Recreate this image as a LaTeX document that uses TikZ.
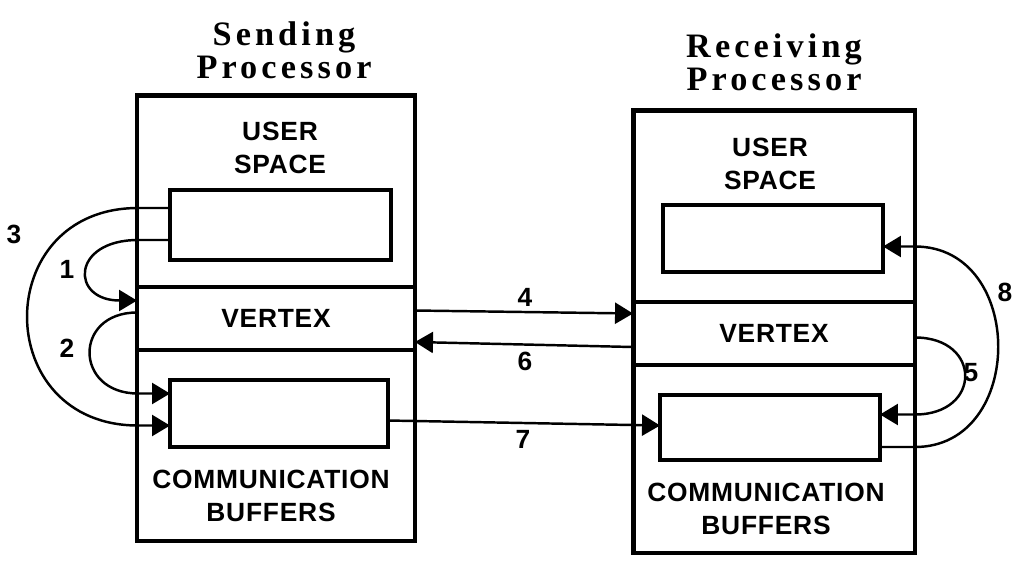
\documentclass[tikz,border=0pt]{standalone}
\usepackage{fontspec}
\usepackage{tikz}
\usetikzlibrary{calc,arrows.meta}
\setmainfont{Liberation Serif}
\newfontfamily\labelfont{Liberation Sans}[LetterSpace=3]
\newfontfamily\titlefont{Liberation Serif}[LetterSpace=12]

\begin{document}
\begin{tikzpicture}[x=0.02cm, y=-0.02cm,
    procbox/.style={draw, line width=2.8pt, inner sep=0pt, outer sep=0pt},
    bufbox/.style={draw, line width=2.3pt, inner sep=0pt, outer sep=0pt},
    vertexband/.style={inner sep=0pt, outer sep=0pt, font=\labelfont\bfseries\fontsize{15}{19}\selectfont},
    divider/.style={line width=2.3pt},
    link/.style={line width=1.4pt, -{Triangle[length=0.36cm, width=0.42cm]}},
    boxtxt/.style={align=center, font=\labelfont\bfseries\fontsize{15}{19}\selectfont},
    numlbl/.style={font=\labelfont\bfseries\fontsize{15}{18}\selectfont},
    titletxt/.style={align=center, font=\titlefont\bfseries\fontsize{19.5}{19}\selectfont}]

    \useasboundingbox (0,0) rectangle (1016,562);

    % Titles
    \node[titletxt] (stitle) at (284,50) {Sending\\Processor};
    \node[titletxt] (rtitle) at (774,62) {Receiving\\Processor};

    % Sending processor
    \node[procbox, minimum width=5.56cm, minimum height=8.92cm] (sendproc) at (276,318) {};
    \node[boxtxt] (suserlbl) at (280,148) {USER\\SPACE};
    \node[bufbox, minimum width=4.42cm, minimum height=1.4cm] (suser) at (280.5,225) {};
    \node[vertexband, minimum width=5.56cm, minimum height=1.26cm] (svertex) at (276,318.5) {VERTEX};
    \draw[divider] (svertex.north west) -- (svertex.north east)
                   (svertex.south west) -- (svertex.south east);
    \node[bufbox, minimum width=4.36cm, minimum height=1.34cm] (sbuf) at (279,413.5) {};
    \node[boxtxt] (sbuflbl) at (271,496) {COMMUNICATION\\BUFFERS};

    % Receiving processor
    \node[procbox, minimum width=5.64cm, minimum height=8.86cm] (recvproc) at (774,331.5) {};
    \node[boxtxt] (ruserlbl) at (770,164) {USER\\SPACE};
    \node[bufbox, minimum width=4.4cm, minimum height=1.34cm] (ruser) at (773,238.5) {};
    \node[vertexband, minimum width=5.64cm, minimum height=1.26cm] (rvertex) at (774,333.5) {VERTEX};
    \draw[divider] (rvertex.north west) -- (rvertex.north east)
                   (rvertex.south west) -- (rvertex.south east);
    \node[bufbox, minimum width=4.4cm, minimum height=1.3cm] (rbuf) at (770,427.5) {};
    \node[boxtxt] (rbuflbl) at (766,509) {COMMUNICATION\\BUFFERS};

    % Local loops, sending side
    \draw[link] ($(suser.west)+(0,-17)$) -- ++(-32,0)
        .. controls +(-148,0) and +(-148,0) .. ($(sbuf.west)+(-32,12)$) -- ($(sbuf.west)+(0,12)$);
    \draw[link] ($(suser.west)+(0,15)$) -- ++(-32,0)
        .. controls +(-67,0) and +(-67,0) .. ($(svertex.west)+(0,-18)$);
    \draw[link] ($(svertex.west)+(0,-6)$)
        .. controls +(-64,0) and +(-64,0) .. ($(sbuf.west)+(-32,-20)$) -- ($(sbuf.west)+(0,-20)$);
    \node[numlbl] (n3) at (14,234) {3};
    \node[numlbl] (n1) at (67,269) {1};
    \node[numlbl] (n2) at (67,348) {2};

    % Messages between processors
    \draw[link] ($(svertex.east)+(0,-8)$) -- ($(rvertex.west)+(0,-20)$);
    \draw[link] ($(rvertex.west)+(0,13.5)$) -- ($(svertex.east)+(0,23.5)$);
    \draw[link] ($(sbuf.east)+(0,7)$) -- ($(rbuf.west)+(0,-2)$);
    \node[numlbl] (n4) at (525,297) {4};
    \node[numlbl] (n6) at (525,361) {6};
    \node[numlbl] (n7) at (523,439) {7};

    % Local loops, receiving side
    \draw[link] ($(rbuf.east)+(0,19.5)$) -- ++(35,0)
        .. controls +(111,0) and +(111,0) .. ($(ruser.east)+(32,8)$) -- ($(ruser.east)+(0,8)$);
    \draw[link] ($(rvertex.east)+(0,4)$)
        .. controls +(67,0) and +(67,0) .. ($(rbuf.east)+(35,-13)$) -- ($(rbuf.east)+(0,-13)$);
    \node[numlbl] (n8) at (1005,292) {8};
    \node[numlbl] (n5) at (971,373) {5};

\end{tikzpicture}
\end{document}
